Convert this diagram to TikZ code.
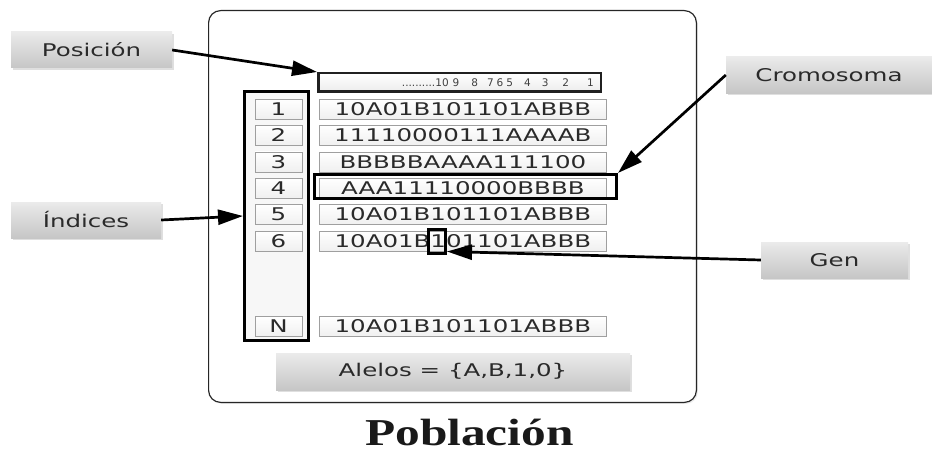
\documentclass[tikz,border=0pt]{standalone}
\usepackage{fontspec}
\setsansfont[FakeStretch=1.4]{DejaVu Sans}
\newfontfamily\plainsans{DejaVu Sans}
\newfontfamily\titlefont[FakeStretch=1.3]{Liberation Serif}
\usepackage{tikz}
\usetikzlibrary{arrows.meta, positioning, shadows}
\definecolor{txtgray}{HTML}{2A2A2A}
\tikzset{
    tag/.style={
        rectangle,
        draw=none,
        top color=gray!16,
        bottom color=gray!45,
        minimum height=36pt,
        inner sep=0pt,
        text=txtgray,
        font=\sffamily\fontsize{17.5}{20}\selectfont,
        drop shadow={opacity=0.25, shadow xshift=2pt, shadow yshift=-2pt}
    },
    idxbox/.style={
        rectangle,
        draw=gray!75,
        thin,
        top color=white,
        bottom color=gray!12,
        minimum width=47pt,
        minimum height=20pt,
        inner sep=0pt,
        text=txtgray,
        font=\sffamily\fontsize{17.5}{20}\selectfont
    },
    crombox/.style={
        idxbox,
        minimum width=287pt
    },
    hilite/.style={
        rectangle,
        draw=black,
        line width=3pt,
        inner sep=0pt
    },
    pointer/.style={
        draw=black,
        line width=2.7pt,
        -{Triangle[length=25pt, width=15pt]}
    }
}

\begin{document}
\begin{tikzpicture}[x=1pt, y=-1pt]
\useasboundingbox (0,0) rectangle (932,452);

% Population frame
\node[rectangle, draw=gray!30!black, line width=1.2pt, rounded corners=12pt, fill=white,
      minimum width=487.8pt, minimum height=391.8pt,
      drop shadow={opacity=0.15, shadow xshift=1.5pt, shadow yshift=-1.5pt}] (frame) at (452.5,206.5) {};

% Index column
\node[hilite, fill=gray!6, minimum width=64pt, minimum height=249pt] (idx_col) at (276.5,216) {};

% Position register
\node[rectangle, draw=gray!25!black, line width=2.5pt, top color=white, bottom color=gray!15,
      minimum width=282.5pt, minimum height=18.5pt, inner sep=0pt] (pos_reg) at (459.5,82.5) {};
\node[font=\plainsans\fontsize{10.5}{12}\selectfont, text=gray!50!black, anchor=east, inner sep=0pt]
      (pos_txt) at (594,82.5) {..........10\hspace{4pt}9\hspace{12pt}8\hspace{9pt}7\hspace{3pt}6\hspace{3pt}5\hspace{11pt}4\hspace{11pt}3\hspace{14pt}2\hspace{18pt}1};

% Rows
\node[idxbox] (idx_1) at (278.5,109) {1};
\node[idxbox, below=6pt of idx_1] (idx_2) {2};
\node[idxbox, below=6pt of idx_2] (idx_3) {3};
\node[idxbox, below=6pt of idx_3] (idx_4) {4};
\node[idxbox, below=6pt of idx_4] (idx_5) {5};
\node[idxbox, below=6pt of idx_5] (idx_6) {6};
\node[idxbox, below=65pt of idx_6] (idx_n) {N};

\node[crombox, right=17pt of idx_1] (crom_1) {10A01B101101ABBB};
\node[crombox, right=17pt of idx_2] (crom_2) {11110000111AAAAB};
\node[crombox, right=17pt of idx_3] (crom_3) {BBBBBAAAA111100};
\node[crombox, right=17pt of idx_4] (crom_4) {AAA11110000BBBB};
\node[crombox, right=17pt of idx_5] (crom_5) {10A01B101101ABBB};
\node[crombox, right=17pt of idx_6] (crom_6) {10A01B101101ABBB};
\node[crombox, right=17pt of idx_n] (crom_n) {10A01B101101ABBB};

% Highlights
\node[hilite, minimum width=302pt, minimum height=24pt] (crom_hl) at (465.5,186.5) {};
\node[hilite, minimum width=17pt, minimum height=24pt] (gen_hl) at (437,241.5) {};

% Alleles
\node[tag, minimum width=354pt, minimum height=37pt] (alelos) at (453,371.5) {Alelos = \{A,B,1,0\}};

% Labels
\node[tag, minimum width=161pt] (pos_label) at (91.5,50) {Posición};
\node[tag, minimum width=150pt] (idx_label) at (86,220) {Índices};
\node[tag, minimum width=206pt] (crom_label) at (829,75) {Cromosoma};
\node[tag, minimum width=147pt] (gen_label) at (834.5,260) {Gen};

% Pointers
\draw[pointer] (pos_label.east) -- (pos_reg.north west);
\draw[pointer] (idx_label.east) -- (idx_col.west);
\draw[pointer] (crom_label.west) -- (crom_hl.north east);
\draw[pointer] (gen_label.west) -- (gen_hl.-45);

% Title
\node[font=\titlefont\bfseries\fontsize{38}{40}\selectfont, text=black!90, anchor=base, inner sep=0pt] (titulo) at (469.5,445) {Población};

\end{tikzpicture}
\end{document}
